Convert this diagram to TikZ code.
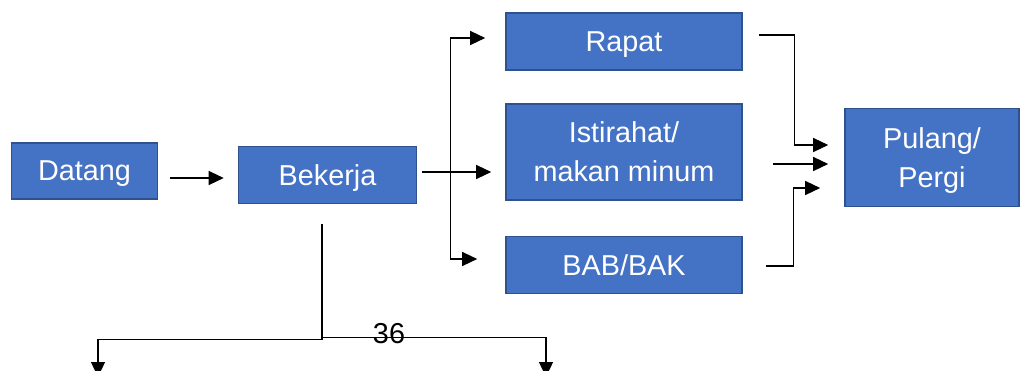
\documentclass[tikz,border=0pt]{standalone}
\usepackage{fontspec}
\setmainfont{Liberation Sans}
\usetikzlibrary{arrows.meta,calc}
\definecolor{boxfill}{HTML}{4472C4}
\definecolor{boxedge}{HTML}{2F528F}
\begin{document}
\begin{tikzpicture}[x=1pt,y=-1pt,
  box/.style={draw=boxedge,fill=boxfill,line width=1.6pt,text=white,align=center,
    font=\fontsize{28.8}{39}\selectfont,inner sep=0pt,text depth=0pt},
  conn/.style={line width=1.3pt,-{Triangle[length=15pt,width=14pt]}},
  lbl/.style={font=\fontsize{28.8}{34}\selectfont,inner sep=0pt}]
\useasboundingbox (0,0) rectangle (1025,370);
\clip (0,0) rectangle (1025,370);
\node[box,minimum width=146,minimum height=56] (datang) at (84.5,171) {Datang};
\node[box,minimum width=178,minimum height=57] (bekerja) at (327.5,175) {Bekerja};
\node[box,minimum width=236,minimum height=57] (rapat) at (624,41.5) {Rapat};
\node[box,minimum width=236,minimum height=96] (istirahat) at (624,152) {Istirahat/\\makan minum};
\node[box,minimum width=236,minimum height=57] (bab) at (624,265) {BAB/BAK};
\node[box,minimum width=174,minimum height=98] (pulang) at (932,157.5) {Pulang/\\Pergi};
\node[lbl] (num) at (389,334) {36};
\coordinate (bl) at (98,377);
\coordinate (br) at (546,377);
% Datang -> Bekerja
\draw[conn] ($(datang.east)+(12,7)$) -- ($(bekerja.west)+(-14,3)$);
% Bekerja -> three
\draw[conn] ($(bekerja.east)+(5,-3)$) -- ($(istirahat.west)+(-14,20)$);
\draw[conn] ($(bekerja.east)+(33,-3)$) |- ($(rapat.west)+(-20,-3.5)$);
\draw[conn] ($(bekerja.east)+(33,-3)$) |- ($(bab.west)+(-28,-6)$);
% three -> Pulang
\draw[conn] ($(rapat.east)+(16,-6.5)$) -- ++(36,0) |- ($(pulang.west)+(-16,-12.5)$);
\draw[conn] ($(istirahat.east)+(30,12)$) -- ($(pulang.west)+(-16,6.5)$);
\draw[conn] ($(bab.east)+(23,1)$) -- ++(28,0) |- ($(pulang.west)+(-24,30.5)$);
% bottom
\draw[conn] ($(bekerja.south)+(-5.5,19.5)$) -- ++(0,116) -| (bl);
\draw[conn] ($(bekerja.south)+(-5.5,133.5)$) -| (br);
\end{tikzpicture}
\end{document}
